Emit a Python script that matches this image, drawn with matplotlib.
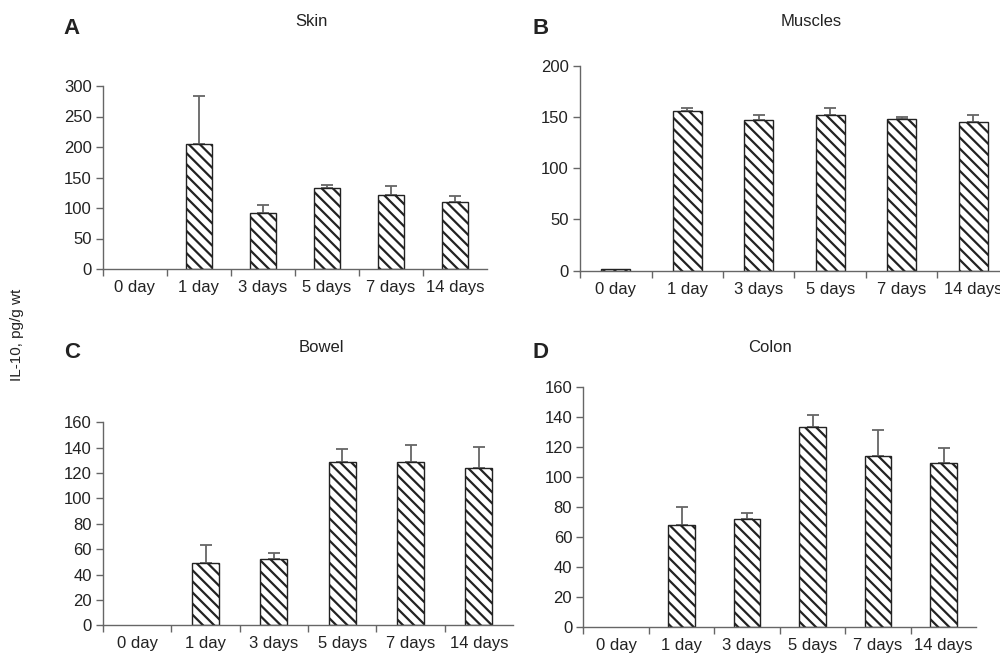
import matplotlib
matplotlib.use("Agg")
import matplotlib.pyplot as plt
import numpy as np

plt.rcParams['font.family'] = ['Liberation Sans', 'DejaVu Sans']
plt.rcParams['hatch.linewidth'] = 1.6
plt.rcParams['hatch.color'] = '#222222'

categories = ["0 day", "1 day", "3 days", "5 days", "7 days", "14 days"]

skin_vals = [0, 205, 91, 133, 122, 110]
skin_err = [0, 79, 14, 5, 14, 10]

muscle_vals = [2, 156, 147, 152, 148, 145]
muscle_err = [0, 3, 5, 7, 2, 7]

bowel_vals = [0, 49, 52, 128.5, 128.5, 124]
bowel_err = [0, 14, 5, 10.5, 14, 16.5]

colon_vals = [0, 68, 72, 133, 114, 109]
colon_err = [0, 12, 4, 8, 17, 10]

fig = plt.figure(figsize=(10, 6.6), dpi=100)

gray = '#666666'

def panel(rect, vals, errs, ymax, ystep, title, letter, title_xy, letter_xy):
    ax = fig.add_axes(rect)
    x = np.arange(len(categories)) + 0.5
    vals = np.asarray(vals, dtype=float)
    errs = np.asarray(errs, dtype=float)
    m = vals > 0
    ax.bar(x[m], vals[m], width=0.4, color='white', edgecolor='#222222',
           linewidth=1.0, hatch='\\\\\\', zorder=2)
    e = errs > 0
    ax.errorbar(x[e], vals[e], yerr=[np.zeros(e.sum()), errs[e]], fmt='none',
                ecolor=gray, elinewidth=1.3, capsize=4, capthick=1.3, zorder=1)
    ax.set_xlim(0, len(categories))
    ax.set_ylim(0, ymax)
    ax.set_yticks(np.arange(0, ymax + 1, ystep))
    ax.set_xticks(x)
    ax.set_xticklabels(categories)
    ax.set_xticks(np.arange(0, len(categories)), minor=True)
    ax.tick_params(axis='x', which='major', length=0, pad=8, labelsize=12, colors='#222222')
    ax.tick_params(axis='x', which='minor', length=5, width=1, color=gray, direction='out')
    ax.tick_params(axis='y', length=5, width=1, color=gray, labelsize=12, labelcolor='#222222', pad=3)
    for s in ['top', 'right']:
        ax.spines[s].set_visible(False)
    for s in ['left', 'bottom']:
        ax.spines[s].set_color(gray)
        ax.spines[s].set_linewidth(1.0)
    fig.text(title_xy[0], title_xy[1], title, ha='center', va='center', fontsize=12, color='#222222')
    fig.text(letter_xy[0], letter_xy[1], letter, ha='center', va='center', fontsize=16,
             fontweight='bold', color='#222222')
    return ax

H = 660.0
panel([0.103, 1 - 269 / H, 0.384, (269 - 86) / H], skin_vals, skin_err, 300, 50,
      "Skin", "A", (0.311, 1 - 22 / H), (0.072, 1 - 29 / H))
panel([0.580, 1 - 270.7 / H, 0.429, (270.7 - 65.7) / H], muscle_vals, muscle_err, 200, 50,
      "Muscles", "B", (0.811, 1 - 22 / H), (0.541, 1 - 29 / H))
panel([0.103, 1 - 625.3 / H, 0.410, (625.3 - 422.3) / H], bowel_vals, bowel_err, 160, 20,
      "Bowel", "C", (0.321, 1 - 348 / H), (0.072, 1 - 353 / H))
panel([0.5833, 1 - 627.3 / H, 0.393, (627.3 - 386.7) / H], colon_vals, colon_err, 160, 20,
      "Colon", "D", (0.770, 1 - 348 / H), (0.541, 1 - 353 / H))

fig.text(0.017, 1 - 335 / H, "IL-10, pg/g wt", rotation=90, ha='center', va='center',
         fontsize=11, color='#222222')

fig.savefig("out.png", dpi=100, facecolor='white')
